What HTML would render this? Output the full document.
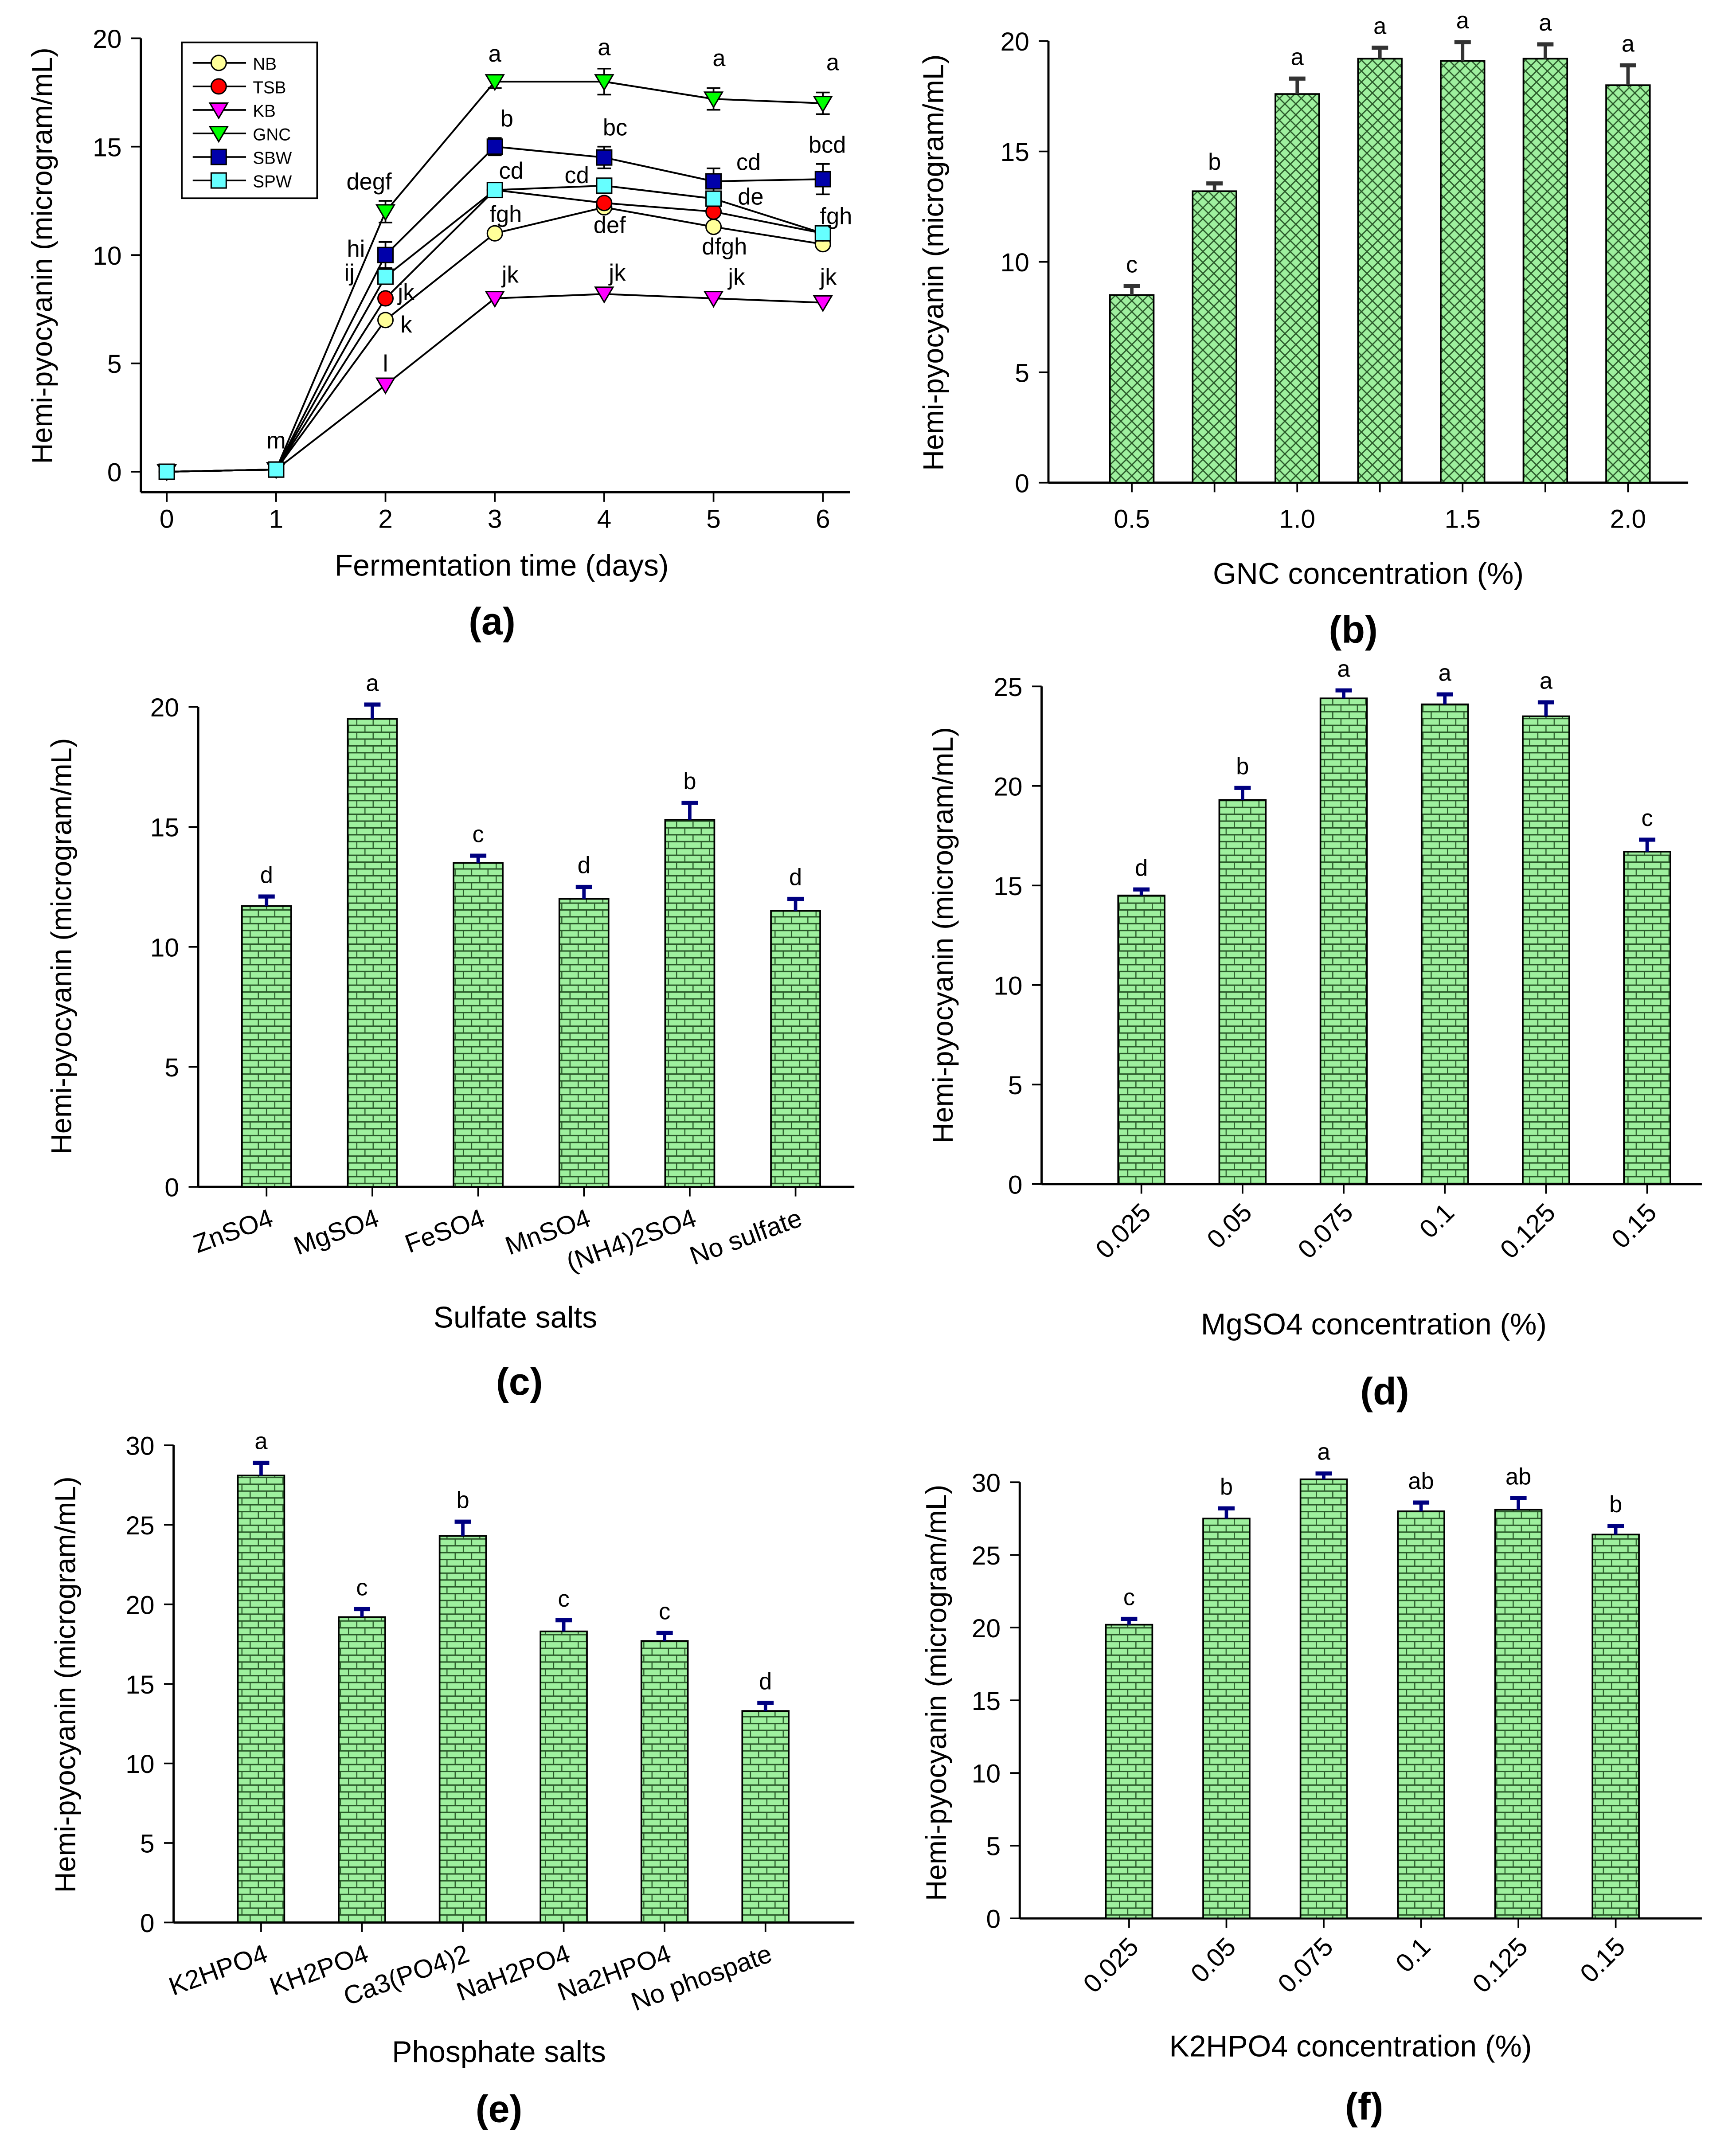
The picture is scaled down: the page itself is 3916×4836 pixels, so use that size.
<!DOCTYPE html>
<html><head><meta charset="utf-8"><style>
html,body{margin:0;padding:0;background:#fff}
svg{display:block}
text{font-family:"Liberation Sans",Arial,sans-serif;fill:#000}
</style></head><body>
<svg id="fig" xmlns="http://www.w3.org/2000/svg" width="3916" height="4836" viewBox="0 0 1270 1568" preserveAspectRatio="none">
<defs>
<pattern id="brick" width="12" height="10" patternUnits="userSpaceOnUse">
<rect width="12" height="10" fill="#9ef09e"/>
<line x1="0" y1="0.5" x2="12" y2="0.5" stroke="#2a5a2a" stroke-width="1"/>
<line x1="0" y1="5.5" x2="12" y2="5.5" stroke="#2a5a2a" stroke-width="1"/>
<line x1="3" y1="0" x2="3" y2="5" stroke="#2a5a2a" stroke-width="0.8"/>
<line x1="9" y1="5" x2="9" y2="10" stroke="#2a5a2a" stroke-width="0.8"/>
</pattern>
<pattern id="hatch" width="8" height="8" patternUnits="userSpaceOnUse">
<rect width="8" height="8" fill="#9ef09e"/>
<path d="M0 0L8 8M8 0L0 8" stroke="#2a5a2a" stroke-width="0.9"/>
</pattern>
</defs>
<g id="root"></g>
</svg>
<script>
// ---- Panel (a) data ----
const aDays = [0,1,2,3,4,5,6];
const aNB  = [0,0.1,7,11,12.2,11.3,10.5];
const aTSB = [0,0.1,8,13,12.4,12,11];
const aKB  = [0,0.1,4,8,8.2,8,7.8];
const aGNC = [0,0.1,12,18,18,17.2,17];
const aSBW = [0,0.1,10,15,14.5,13.4,13.5];
const aSPW = [0,0.1,9,13,13.2,12.6,11];
const aGNCerr = [0,0,0.5,0.3,0.6,0.5,0.5];
const aSBWerr = [0,0,0.6,0.4,0.5,0.6,0.7];
const aYTicks = [0,5,10,15,20];
const aLetters = [["m",1,1.45],["degf",1.85,13.4],["hi",1.73,10.3],["ij",1.67,9.2],["jk",2.19,8.3],["k",2.19,6.8],["l",2,5.0],
 ["a",3,19.3],["b",3.11,16.3],["cd",3.15,13.9],["fgh",3.1,11.9],["jk",3.14,9.1],
 ["a",4,19.6],["bc",4.1,15.9],["cd",3.75,13.7],["def",4.05,11.4],["jk",4.12,9.2],
 ["a",5.05,19.1],["cd",5.32,14.3],["de",5.34,12.7],["dfgh",5.1,10.4],["jk",5.21,9.0],
 ["a",6.09,18.9],["bcd",6.04,15.1],["fgh",6.12,11.8],["jk",6.05,9.0]];

// ---- Panel (b) ----
const bCats = ["0.5","","1.0","","1.5","","2.0"];
const bVals = [8.5,13.2,17.6,19.2,19.1,19.2,18.0];
const bErr  = [0.4,0.35,0.7,0.5,0.85,0.65,0.9];
const bLetters = ["c","b","a","a","a","a","a"];
const bYTicks = [0,5,10,15,20];
// ---- Panel (c) ----
const cCats = ["ZnSO4","MgSO4","FeSO4","MnSO4","(NH4)2SO4","No sulfate"];
const cVals = [11.7,19.5,13.5,12.0,15.3,11.5];
const cErr  = [0.4,0.6,0.3,0.5,0.7,0.5];
const cLetters = ["d","a","c","d","b","d"];
const cYTicks = [0,5,10,15,20];
// ---- Panel (d) ----
const dCats = ["0.025","0.05","0.075","0.1","0.125","0.15"];
const dVals = [14.5,19.3,24.4,24.1,23.5,16.7];
const dErr  = [0.3,0.6,0.4,0.5,0.7,0.6];
const dLetters = ["d","b","a","a","a","c"];
const dYTicks = [0,5,10,15,20,25];
// ---- Panel (e) ----
const eCats = ["K2HPO4","KH2PO4","Ca3(PO4)2","NaH2PO4","Na2HPO4","No phospate"];
const eVals = [28.1,19.2,24.3,18.3,17.7,13.3];
const eErr  = [0.8,0.5,0.9,0.7,0.5,0.5];
const eLetters = ["a","c","b","c","c","d"];
const eYTicks = [0,5,10,15,20,25,30];
// ---- Panel (f) ----
const fCats = ["0.025","0.05","0.075","0.1","0.125","0.15"];
const fVals = [20.2,27.5,30.2,28.0,28.1,26.4];
const fErr  = [0.4,0.7,0.4,0.6,0.8,0.6];
const fLetters = ["c","b","a","ab","ab","b"];
const fYTicks = [0,5,10,15,20,25,30];

const NS="http://www.w3.org/2000/svg";
const root=document.getElementById('root');
function mk(tag,attrs,parent,txt){const e=document.createElementNS(NS,tag);for(const k in attrs)e.setAttribute(k,attrs[k]);if(txt!==undefined)e.textContent=txt;(parent||root).appendChild(e);return e;}

function panelFrame(g,o){
  const ax=mk('line',{x1:o.x0,y1:o.yTop,x2:o.x0,y2:o.axisY,stroke:'#000','stroke-width':1.6},g);
  
  
  const xl=mk('line',{x1:o.x0,y1:o.axisY,x2:o.x1,y2:o.axisY,stroke:'#000','stroke-width':1.6},g);
  
  
  o.yTicks.forEach(t=>{
    const y=o.ys(t);
    mk('line',{x1:o.x0-7,y1:y,x2:o.x0,y2:y,stroke:'#000','stroke-width':1.2},g);
    const tl=mk('text',{x:o.x0-14,y:y+7,'text-anchor':'end','font-size':19},g,String(t));
    
    
  });
  const yt=mk('text',{x:0,y:0,'text-anchor':'middle','font-size':21,transform:`translate(${o.ylabX},${o.ylabY}) rotate(-90)`},g,'Hemi-pyocyanin (microgram/mL)');
  
  
  const xt=mk('text',{x:o.xtX,y:o.xtY,'text-anchor':'middle','font-size':22},g,o.xTitle);
  
  
  const pl=mk('text',{x:o.plX,y:o.plY,'text-anchor':'middle','font-size':28,'font-weight':'bold'},g,o.pLabel);
  
  
}

function barPanel(name,cats,vals,errs,letters,yTicks,o){
  const g=mk('g',{});
  
  
  const ymax=yTicks[yTicks.length-1];
  o.yTicks=yTicks;
  o.ys=v=>o.y0-(v/ymax)*(o.y0-o.yTop);
  o.axisY=o.y0;
  panelFrame(g,o);
  const xs=i=>o.c0+i*o.step;
  vals.forEach((v,i)=>{
    const x=xs(i),y=o.ys(v);
    const r=mk('rect',{x:x-o.bw/2,y:y,width:o.bw,height:o.y0-y,fill:`url(#${o.pat})`,stroke:'#000','stroke-width':1.2},g);
    
    
    const ye=o.ys(v+errs[i]);
    mk('line',{x1:x,y1:y,x2:x,y2:ye,stroke:o.ec,'stroke-width':2.5},g);
    mk('line',{x1:x-6,y1:ye,x2:x+6,y2:ye,stroke:o.ec,'stroke-width':3},g);
    const lt=mk('text',{x:x,y:ye-10,'text-anchor':'middle','font-size':17},g,letters[i]);
    
    
    mk('line',{x1:x,y1:o.y0,x2:x,y2:o.y0+7,stroke:'#000','stroke-width':1.2},g);
    if(cats[i]){
      let t;
      if(o.rot){t=mk('text',{x:0,y:0,'text-anchor':'end','font-size':19,transform:`translate(${x+o.rdx},${o.y0+o.rdy}) rotate(${o.rot})`},g,cats[i]);}
      else {t=mk('text',{x:x,y:o.y0+33,'text-anchor':'middle','font-size':19},g,cats[i]);}
      
      
    }
  });
}

// ---- Panel (a) line chart ----
(function(){
  const g=mk('g',{});
  
  
  const xs=d=>122+d*80, ys=v=>345-v*15.85;
  const o={x0:103,x1:622,yTop:28,axisY:360,ys:ys,yTicks:aYTicks,ylabX:38,ylabY:187,xTitle:'Fermentation time (days)',xtX:367,xtY:421,pLabel:'(a)',plX:360,plY:464};
  panelFrame(g,o);
  aDays.forEach(d=>{mk('line',{x1:xs(d),y1:360,x2:xs(d),y2:367,stroke:'#000','stroke-width':1.2},g);
    const t=mk('text',{x:xs(d),y:386,'text-anchor':'middle','font-size':19},g,String(d));
    
    });
  const series=[['NB',aNB,'#ffff99','circle',null],['TSB',aTSB,'#ff0000','circle',null],['KB',aKB,'#ff00ff','tri',null],['GNC',aGNC,'#00ff00','tri',aGNCerr],['SBW',aSBW,'#0000aa','square',aSBWerr],['SPW',aSPW,'#66ffff','square',null]];
  function marker(shape,x,y,fill,p){
    let m;
    if(shape==='circle')m=mk('circle',{cx:x,cy:y,r:5.5,fill:fill,stroke:'#000','stroke-width':1},p);
    else if(shape==='tri')m=mk('path',{d:`M${x-6.5} ${y-5}L${x+6.5} ${y-5}L${x} ${y+6}Z`,fill:fill,stroke:'#000','stroke-width':1},p);
    else m=mk('rect',{x:x-5.5,y:y-5.5,width:11,height:11,fill:fill,stroke:'#000','stroke-width':1},p);
    return m;
  }
  series.forEach(s=>{
    const pts=aDays.map((d,i)=>xs(d)+','+ys(s[1][i])).join(' ');
    const l=mk('polyline',{points:pts,fill:'none',stroke:'#000','stroke-width':1.3},g);
    
    
  });
  series.forEach(s=>{
    aDays.forEach((d,i)=>{
      if(s[4]&&s[4][i]){const e=s[4][i];mk('line',{x1:xs(d),y1:ys(s[1][i]+e),x2:xs(d),y2:ys(s[1][i]-e),stroke:'#000','stroke-width':1.2},g);
        mk('line',{x1:xs(d)-5,y1:ys(s[1][i]+e),x2:xs(d)+5,y2:ys(s[1][i]+e),stroke:'#000','stroke-width':1.2},g);
        mk('line',{x1:xs(d)-5,y1:ys(s[1][i]-e),x2:xs(d)+5,y2:ys(s[1][i]-e),stroke:'#000','stroke-width':1.2},g);}
      const m=marker(s[3],xs(d),ys(s[1][i]),s[2],g);
      
      
    });
  });
  aLetters.forEach(L=>{const t=mk('text',{x:xs(L[1]),y:ys(L[2])+6,'text-anchor':'middle','font-size':17},g,L[0]);
    
    });
  const lg=mk('g',{},g);
  
  
  mk('rect',{x:133,y:31,width:99,height:114,fill:'#fff',stroke:'#000','stroke-width':1.2},lg);
  series.forEach((s,i)=>{const y=46+i*17.2;
    mk('line',{x1:141,y1:y,x2:180,y2:y,stroke:'#000','stroke-width':1.2},lg);
    marker(s[3],160,y,s[2],lg);
    const t=mk('text',{x:185,y:y+5,'font-size':12.5},lg,s[0]);
    
    });
})();

barPanel('panel-b-bar-chart',bCats,bVals,bErr,bLetters,bYTicks,{x0:767,x1:1235,yTop:30,y0:353,c0:828,step:60.5,bw:32,pat:'hatch',ec:'#333',rot:0,ylabX:690,ylabY:192,xTitle:'GNC concentration (%)',xtX:1001,xtY:427,pLabel:'(b)',plX:990,plY:470});
barPanel('panel-c-bar-chart',cCats,cVals,cErr,cLetters,cYTicks,{x0:145,x1:625,yTop:517,y0:868,c0:195,step:77.4,bw:36,pat:'brick',ec:'#000080',rot:-20,rdx:6,rdy:28,ylabX:52,ylabY:692,xTitle:'Sulfate salts',xtX:377,xtY:971,pLabel:'(c)',plX:380,plY:1020});
barPanel('panel-d-bar-chart',dCats,dVals,dErr,dLetters,dYTicks,{x0:762,x1:1245,yTop:502,y0:866,c0:835,step:74,bw:34,pat:'brick',ec:'#000080',rot:-45,rdx:8,rdy:22,ylabX:697,ylabY:684,xTitle:'MgSO4 concentration (%)',xtX:1005,xtY:976,pLabel:'(d)',plX:1013,plY:1027});
barPanel('panel-e-bar-chart',eCats,eVals,eErr,eLetters,eYTicks,{x0:127,x1:625,yTop:1057,y0:1406,c0:191,step:73.8,bw:34,pat:'brick',ec:'#000080',rot:-20,rdx:6,rdy:28,ylabX:55,ylabY:1232,xTitle:'Phosphate salts',xtX:365,xtY:1508,pLabel:'(e)',plX:365,plY:1552});
barPanel('panel-f-bar-chart',fCats,fVals,fErr,fLetters,fYTicks,{x0:746,x1:1245,yTop:1084,y0:1403,c0:826,step:71.2,bw:34,pat:'brick',ec:'#000080',rot:-45,rdx:8,rdy:22,ylabX:692,ylabY:1238,xTitle:'K2HPO4 concentration (%)',xtX:988,xtY:1504,pLabel:'(f)',plX:998,plY:1550});
</script>
</body></html>
